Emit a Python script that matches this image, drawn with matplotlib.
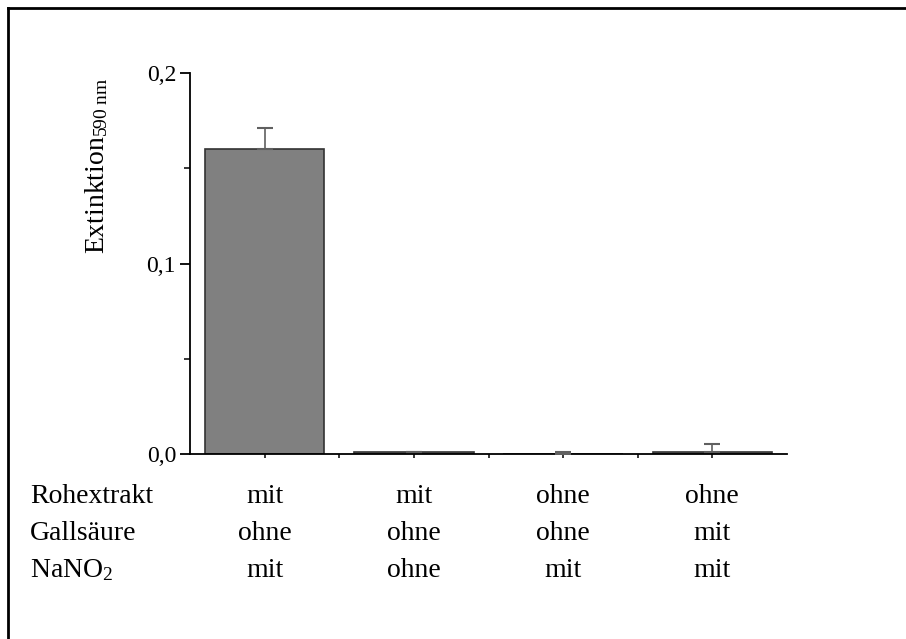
import matplotlib
matplotlib.use("Agg")
import matplotlib.pyplot as plt
from matplotlib.lines import Line2D
from matplotlib.ticker import FixedLocator, FuncFormatter

plt.rcParams["font.family"] = ["Liberation Serif", "DejaVu Serif"]
plt.rcParams["mathtext.fontset"] = "custom"
plt.rcParams["mathtext.rm"] = "Liberation Serif"
plt.rcParams["mathtext.it"] = "Liberation Serif:italic"

# Messwerte (Extinktion bei 590 nm) mit Standardabweichung
positions = [1, 2, 3, 4]
extinction = [0.160, 0.001, 0.0, 0.001]
std_dev = [0.011, 0.0, 0.001, 0.004]

# Ansatzbedingungen pro Balken
row_labels = ["Rohextrakt", "Gallsäure", "NaNO$_2$"]
rohextrakt = ["mit", "mit", "ohne", "ohne"]
gallsaeure = ["ohne", "ohne", "ohne", "mit"]
nano2 = ["mit", "ohne", "mit", "mit"]

y_ticks = [0.0, 0.1, 0.2]
y_minor = [0.05, 0.15]

W, H = 906, 639
fig = plt.figure(figsize=(W / 100, H / 100), dpi=100)
ax = fig.add_axes([190 / W, 1 - 454 / H, (787 - 190) / W, (454 - 73) / H])

ax.bar(positions, extinction, width=0.8, color="#808080",
       edgecolor="#333333", linewidth=1.2, zorder=2)
ax.errorbar(positions, extinction, yerr=[[0] * 4, std_dev], fmt="none",
            ecolor="#606060", elinewidth=1.2, capsize=6, capthick=1.5,
            zorder=3)

ax.set_xlim(0.5, 4.5)
ax.set_ylim(0, 0.2)
for s in ("top", "right"):
    ax.spines[s].set_visible(False)
for s in ("left", "bottom"):
    ax.spines[s].set_linewidth(1.3)

ax.yaxis.set_major_locator(FixedLocator(y_ticks))
ax.yaxis.set_minor_locator(FixedLocator(y_minor))
ax.yaxis.set_major_formatter(FuncFormatter(lambda v, p: f"{v:.1f}".replace(".", ",")))
ax.tick_params(axis="y", which="major", direction="out", length=7, width=1.3,
               labelsize=17, pad=3)
ax.tick_params(axis="y", which="minor", direction="out", length=4, width=1.1)

ax.xaxis.set_major_locator(FixedLocator(positions))
ax.xaxis.set_minor_locator(FixedLocator([1.5, 2.5, 3.5]))
ax.tick_params(axis="x", which="both", direction="out", length=3, width=1.1,
               labelbottom=False)

fig.text(97 / W, 1 - 166 / H, r"Extinktion$_{\mathrm{590\ nm}}$",
         rotation=90, ha="center", va="center", fontsize=20)

# Bedingungstabelle unter der Achse
row_y = [503, 540, 577]
rows = [rohextrakt, gallsaeure, nano2]
for label, yb, vals in zip(row_labels, row_y, rows):
    fig.text(30 / W, 1 - yb / H, label, ha="left", va="baseline", fontsize=20)
    for xpos, v in zip(positions, vals):
        xd = ax.transData.transform((xpos, 0))[0]
        fig.text(xd / W, 1 - yb / H, v, ha="center", va="baseline", fontsize=20)

# Rahmen
fig.add_artist(Line2D([8 / W, 8 / W], [0, 1 - 8 / H], color="black",
                      linewidth=2, transform=fig.transFigure))
fig.add_artist(Line2D([8 / W, 1], [1 - 8 / H, 1 - 8 / H], color="black",
                      linewidth=2, transform=fig.transFigure))

fig.savefig("out.png", dpi=100)
